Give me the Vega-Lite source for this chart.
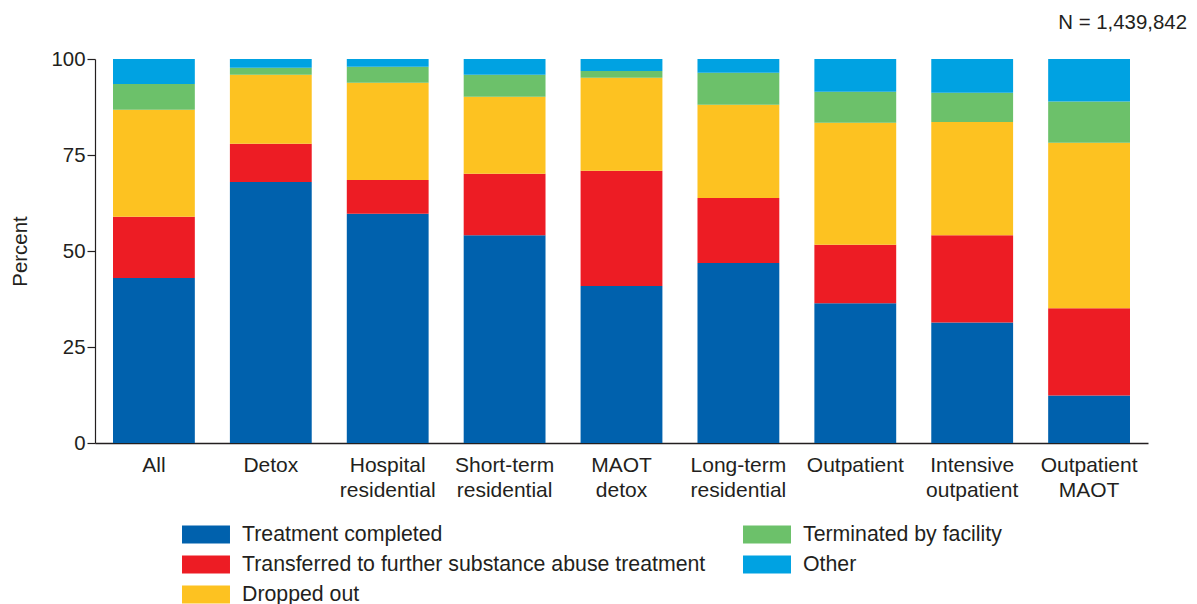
{
  "$schema": "https://vega.github.io/schema/vega-lite/v6.json",
  "width": 1053,
  "height": 384,
  "autosize": {"type": "none"},
  "padding": {"left": 95, "top": 59, "right": 49, "bottom": 161},
  "background": "white",
  "config": {
    "font": "Liberation Sans",
    "view": {"stroke": null},
    "axis": {"labelColor": "#231F20", "titleColor": "#231F20", "domainColor": "#231F20", "tickColor": "#231F20"},
    "legend": {"labelColor": "#231F20"}
  },
  "title": {"text": "N = 1,439,842", "anchor": "end", "orient": "top", "frame": "group", "dx": 39, "offset": 16, "fontSize": 20.4, "fontWeight": "normal", "color": "#231F20"},
  "data": {
    "values": [
      {"setting": "All", "reason": "Treatment completed", "percent": 43.0},
      {"setting": "All", "reason": "Transferred to further substance abuse treatment", "percent": 15.9},
      {"setting": "All", "reason": "Dropped out", "percent": 27.9},
      {"setting": "All", "reason": "Terminated by facility", "percent": 6.7},
      {"setting": "All", "reason": "Other", "percent": 6.5},
      {"setting": "Detox", "reason": "Treatment completed", "percent": 68.0},
      {"setting": "Detox", "reason": "Transferred to further substance abuse treatment", "percent": 9.9},
      {"setting": "Detox", "reason": "Dropped out", "percent": 18.0},
      {"setting": "Detox", "reason": "Terminated by facility", "percent": 1.8},
      {"setting": "Detox", "reason": "Other", "percent": 2.3},
      {"setting": "Hospital residential", "reason": "Treatment completed", "percent": 59.7},
      {"setting": "Hospital residential", "reason": "Transferred to further substance abuse treatment", "percent": 8.8},
      {"setting": "Hospital residential", "reason": "Dropped out", "percent": 25.3},
      {"setting": "Hospital residential", "reason": "Terminated by facility", "percent": 4.2},
      {"setting": "Hospital residential", "reason": "Other", "percent": 2.0},
      {"setting": "Short-term residential", "reason": "Treatment completed", "percent": 54.1},
      {"setting": "Short-term residential", "reason": "Transferred to further substance abuse treatment", "percent": 16.0},
      {"setting": "Short-term residential", "reason": "Dropped out", "percent": 20.1},
      {"setting": "Short-term residential", "reason": "Terminated by facility", "percent": 5.7},
      {"setting": "Short-term residential", "reason": "Other", "percent": 4.1},
      {"setting": "MAOT detox", "reason": "Treatment completed", "percent": 40.9},
      {"setting": "MAOT detox", "reason": "Transferred to further substance abuse treatment", "percent": 30.0},
      {"setting": "MAOT detox", "reason": "Dropped out", "percent": 24.2},
      {"setting": "MAOT detox", "reason": "Terminated by facility", "percent": 1.8},
      {"setting": "MAOT detox", "reason": "Other", "percent": 3.1},
      {"setting": "Long-term residential", "reason": "Treatment completed", "percent": 46.9},
      {"setting": "Long-term residential", "reason": "Transferred to further substance abuse treatment", "percent": 16.9},
      {"setting": "Long-term residential", "reason": "Dropped out", "percent": 24.3},
      {"setting": "Long-term residential", "reason": "Terminated by facility", "percent": 8.3},
      {"setting": "Long-term residential", "reason": "Other", "percent": 3.6},
      {"setting": "Outpatient", "reason": "Treatment completed", "percent": 36.4},
      {"setting": "Outpatient", "reason": "Transferred to further substance abuse treatment", "percent": 15.2},
      {"setting": "Outpatient", "reason": "Dropped out", "percent": 31.8},
      {"setting": "Outpatient", "reason": "Terminated by facility", "percent": 8.1},
      {"setting": "Outpatient", "reason": "Other", "percent": 8.5},
      {"setting": "Intensive outpatient", "reason": "Treatment completed", "percent": 31.4},
      {"setting": "Intensive outpatient", "reason": "Transferred to further substance abuse treatment", "percent": 22.7},
      {"setting": "Intensive outpatient", "reason": "Dropped out", "percent": 29.5},
      {"setting": "Intensive outpatient", "reason": "Terminated by facility", "percent": 7.6},
      {"setting": "Intensive outpatient", "reason": "Other", "percent": 8.8},
      {"setting": "Outpatient MAOT", "reason": "Treatment completed", "percent": 12.4},
      {"setting": "Outpatient MAOT", "reason": "Transferred to further substance abuse treatment", "percent": 22.7},
      {"setting": "Outpatient MAOT", "reason": "Dropped out", "percent": 43.1},
      {"setting": "Outpatient MAOT", "reason": "Terminated by facility", "percent": 10.7},
      {"setting": "Outpatient MAOT", "reason": "Other", "percent": 11.1}
    ]
  },
  "transform": [
    {"calculate": "indexof(['Treatment completed', 'Transferred to further substance abuse treatment', 'Dropped out', 'Terminated by facility', 'Other'], datum.reason)", "as": "stackOrder"}
  ],
  "mark": {"type": "bar"},
  "encoding": {
    "x": {
      "field": "setting",
      "type": "nominal",
      "sort": null,
      "scale": {"paddingInner": 0.3, "paddingOuter": 0.154},
      "axis": {
        "title": null,
        "labelAngle": 0,
        "ticks": false,
        "domainWidth": 1.5,
        "labelFontSize": 21,
        "labelLineHeight": 25,
        "labelPadding": 11,
        "labelBaseline": "top",
        "labelExpr": "split(datum.value, ' ')",
        "labelLimit": 0
      }
    },
    "y": {
      "field": "percent",
      "type": "quantitative",
      "stack": "zero",
      "scale": {"domain": [0, 100], "nice": false},
      "axis": {
        "title": "Percent",
        "values": [0, 25, 50, 75, 100],
        "grid": false,
        "tickSize": 8,
        "tickWidth": 1.2,
        "domainWidth": 1.2,
        "labelPadding": 2,
        "labelFontSize": 20.4,
        "titleFontSize": 20.4,
        "titleFontWeight": "normal",
        "titlePadding": 20
      }
    },
    "order": {"field": "stackOrder", "type": "quantitative", "sort": "ascending"},
    "color": {
      "field": "reason",
      "type": "nominal",
      "scale": {
        "domain": ["Treatment completed", "Transferred to further substance abuse treatment", "Dropped out", "Terminated by facility", "Other"],
        "range": ["#0061AD", "#ED1C24", "#FDC221", "#6CC16A", "#00A2E2"]
      },
      "legend": {
        "orient": "none",
        "legendX": 91.5,
        "legendY": 456,
        "columns": 2,
        "title": null,
        "values": ["Treatment completed", "Transferred to further substance abuse treatment", "Dropped out", "Terminated by facility", "Other"],
        "symbolType": "M-1.234,-0.463H1.234V0.463H-1.234Z",
        "symbolSize": 1512,
        "symbolStrokeWidth": 0,
        "symbolOpacity": 1,
        "labelFontSize": 21.3,
        "labelOffset": 16.5,
        "labelLimit": 0,
        "rowPadding": 0,
        "columnPadding": 37
      }
    }
  }
}
